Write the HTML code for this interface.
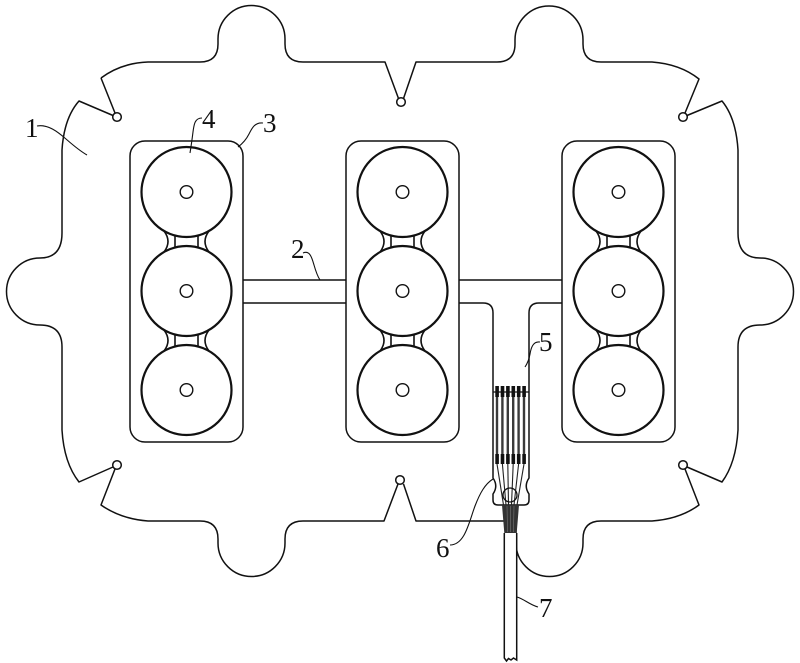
<!DOCTYPE html>
<html><head><meta charset="utf-8"><style>
html,body{margin:0;padding:0;background:#fff;}
svg{display:block;}
text{font-family:"Liberation Serif",serif;font-size:27px;fill:#111;}
</style></head><body>
<svg width="800" height="663" viewBox="0 0 800 663" xmlns="http://www.w3.org/2000/svg">
<rect width="800" height="663" fill="#fff"/>
<g fill="none" stroke="#111" stroke-width="1.5" stroke-linejoin="round">
<path d="M101,78 Q121,63 148,62 L200,62 Q218,62 218,44 L218,39 A33.5,33.5 0 0 1 285,39 L285,44 Q285,62 303,62 L385,62 L398.5,98.5"/>
<path d="M403.5,98.5 L416,62 L497,62 Q515,62 515,44 L515,40 A34,34 0 0 1 583,40 L583,44 Q583,62 601,62 L652,62 Q680,64 699,79 L685,113"/>
<path d="M687,115.5 L722,101 Q736,118 738,150 L738,233 Q738,258 760,258 A33.5,33.5 0 0 1 760,325 Q738,325 738,347 L738,430 Q736,463 722,482 L687,467"/>
<path d="M685,469 L699,505 Q680,519 652,521 L601,521 Q583,521 583,539 L583,543 A33.5,33.5 0 0 1 516,543 L516,521 L416,521 L403.5,484"/>
<path d="M398,484 L384,521 L303,521 Q285,521 285,539 L285,543 A33.5,33.5 0 0 1 218,543 L218,539 Q218,521 200,521 L148,521 Q121,519 101,505 L115,469"/>
<path d="M113,467 L79,482 Q64,463 62,430 L62,347 Q62,325 40,325 A33.5,33.5 0 0 1 40,258 Q62,258 62,233 L62,150 Q64,118 79,101 L113,115.5"/>
<path d="M115,113 L101,78"/>
<circle cx="117" cy="117" r="4.3"/>
<circle cx="401" cy="102" r="4.3"/>
<circle cx="683" cy="117" r="4.3"/>
<circle cx="117" cy="465" r="4.3"/>
<circle cx="400" cy="480" r="4.3"/>
<circle cx="683" cy="465" r="4.3"/>

<rect x="130" y="141" width="113" height="301" rx="15"/>
<rect x="346" y="141" width="113" height="301" rx="15"/>
<rect x="562" y="141" width="113" height="301" rx="15"/>

<line x1="243" y1="280" x2="346" y2="280"/>
<line x1="243" y1="303" x2="346" y2="303"/>
<line x1="459" y1="280" x2="562" y2="280"/>
<path d="M459,303 L483,303 Q493,303 493,313 L493,478 Q498.5,486 493,494 L493,500 Q493,505 498,505 L524,505 Q529,505 529,500 L529,494 Q523.5,486 529,478 L529,313 Q529,303 539,303 L562,303"/>
<line x1="493" y1="392" x2="529" y2="392" stroke-width="1.2"/>
</g>

<g fill="none" stroke="#111" stroke-width="1.6">
<path d="M164,231 Q172,241.5 164,252 M209,231 Q201,241.5 209,252 M175,232 L175,251 M198,232 L198,251"/>
<path d="M164,330 Q172,340.5 164,351 M209,330 Q201,340.5 209,351 M175,331 L175,350 M198,331 L198,350"/>
<path d="M380,231 Q388,241.5 380,252 M425,231 Q417,241.5 425,252 M391,232 L391,251 M414,232 L414,251"/>
<path d="M380,330 Q388,340.5 380,351 M425,330 Q417,340.5 425,351 M391,331 L391,350 M414,331 L414,350"/>
<path d="M596,231 Q604,241.5 596,252 M641,231 Q633,241.5 641,252 M607,232 L607,251 M630,232 L630,251"/>
<path d="M596,330 Q604,340.5 596,351 M641,330 Q633,340.5 641,351 M607,331 L607,350 M630,331 L630,350"/>
</g>
<g fill="#fff" stroke="#111" stroke-width="2.2">
<circle cx="186.5" cy="192" r="45"/><circle cx="186.5" cy="291" r="45"/><circle cx="186.5" cy="390" r="45"/>
<circle cx="402.5" cy="192" r="45"/><circle cx="402.5" cy="291" r="45"/><circle cx="402.5" cy="390" r="45"/>
<circle cx="618.5" cy="192" r="45"/><circle cx="618.5" cy="291" r="45"/><circle cx="618.5" cy="390" r="45"/>
</g>
<g fill="none" stroke="#111" stroke-width="1.4">
<circle cx="186.5" cy="192" r="6.3"/><circle cx="186.5" cy="291" r="6.3"/><circle cx="186.5" cy="390" r="6.3"/>
<circle cx="402.5" cy="192" r="6.3"/><circle cx="402.5" cy="291" r="6.3"/><circle cx="402.5" cy="390" r="6.3"/>
<circle cx="618.5" cy="192" r="6.3"/><circle cx="618.5" cy="291" r="6.3"/><circle cx="618.5" cy="390" r="6.3"/>
</g>

<g stroke="#3a3a3a" stroke-width="2.4">
<line x1="497" y1="387" x2="497" y2="463"/>
<line x1="502.4" y1="387" x2="502.4" y2="463"/>
<line x1="507.8" y1="387" x2="507.8" y2="463"/>
<line x1="513.2" y1="387" x2="513.2" y2="463"/>
<line x1="518.6" y1="387" x2="518.6" y2="463"/>
<line x1="524" y1="387" x2="524" y2="463"/>
</g>
<g fill="#111">
<rect x="495.3" y="386" width="3.6" height="11"/><rect x="500.7" y="386" width="3.6" height="11"/><rect x="506.1" y="386" width="3.6" height="11"/><rect x="511.5" y="386" width="3.6" height="11"/><rect x="516.9" y="386" width="3.6" height="11"/><rect x="522.3" y="386" width="3.6" height="11"/>
<rect x="495.3" y="454" width="3.6" height="10"/><rect x="500.7" y="454" width="3.6" height="10"/><rect x="506.1" y="454" width="3.6" height="10"/><rect x="511.5" y="454" width="3.6" height="10"/><rect x="516.9" y="454" width="3.6" height="10"/><rect x="522.3" y="454" width="3.6" height="10"/>
</g>
<g stroke="#222" stroke-width="1.1" fill="none">
<line x1="497" y1="464" x2="503.5" y2="505"/>
<line x1="502.4" y1="464" x2="506" y2="505"/>
<line x1="507.8" y1="464" x2="508.5" y2="505"/>
<line x1="513.2" y1="464" x2="511.5" y2="505"/>
<line x1="518.6" y1="464" x2="514" y2="505"/>
<line x1="524" y1="464" x2="517" y2="505"/>
</g>
<circle cx="510" cy="495" r="7" fill="none" stroke="#111" stroke-width="1.3"/>
<polygon points="502,505 519,505 516.7,533 504.3,533" fill="#333"/>
<g stroke="#777" stroke-width="0.6"><line x1="507" y1="506" x2="507.5" y2="532"/><line x1="510.5" y1="506" x2="510.5" y2="532"/><line x1="514" y1="506" x2="513.5" y2="532"/></g>
<path d="M504.3,533 L504.3,658 L506.5,661 L508.5,658.5 L511,660 L513.5,658 L516.7,660 L516.7,533" fill="#fff" stroke="#111" stroke-width="1.5"/>

<g fill="none" stroke="#111" stroke-width="1.1">
<path d="M37,126 C48,124 58,132 66,139 C74,146 80,151 87,155"/>
<path d="M202,118 C195,118 194,124 193,132 C192,140 191,147 190,153"/>
<path d="M263,123 C255,122 252,128 249,134 C246,140 242,144 238,147"/>
<path d="M303,253 C310,250 312,258 314,265 C316,272 318,277 320,280"/>
<path d="M540,342 C533,341 531,348 530,354 C529,360 527,364 525,367"/>
<path d="M450,545 C465,545 469,522 475,506 C480,493 485,484 493,479"/>
<path d="M517,597 C524,599 530,605 538,607"/>
</g>

<text x="25" y="137">1</text>
<text x="291" y="258">2</text>
<text x="263" y="132">3</text>
<text x="202" y="128">4</text>
<text x="539" y="351">5</text>
<text x="436" y="557">6</text>
<text x="539" y="617">7</text>
</svg>
</body></html>
